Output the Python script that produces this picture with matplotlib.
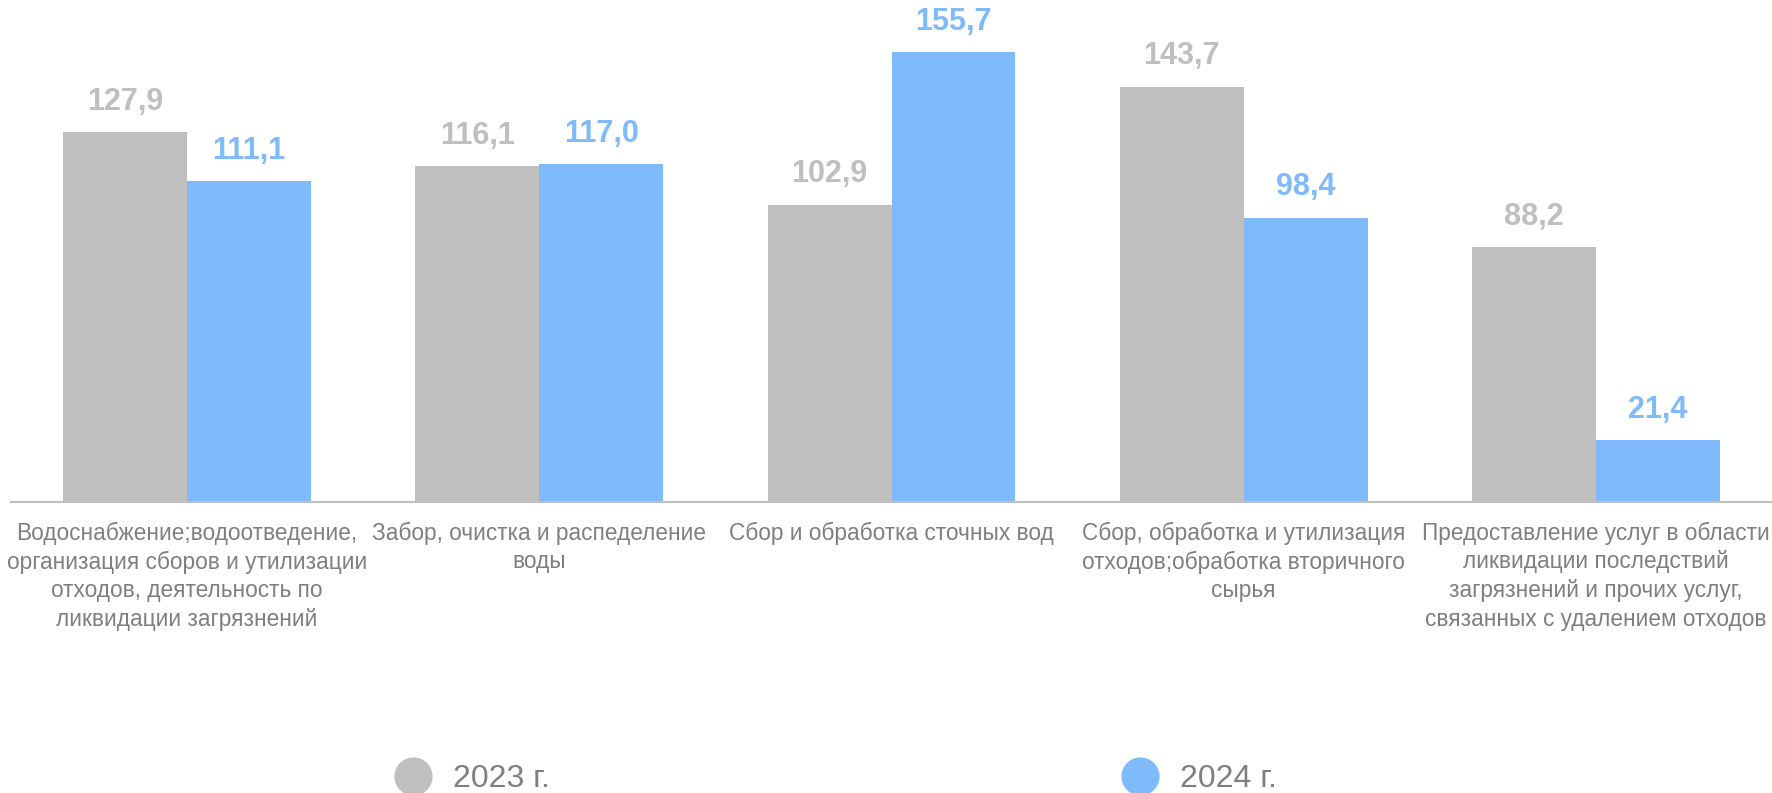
import numpy as np
import matplotlib
matplotlib.use("Agg")
from matplotlib import pyplot as plt
from matplotlib.lines import Line2D

plt.rcParams['font.family'] = ['Liberation Sans', 'DejaVu Sans']

# data
categories = [
    'Водоснабжение;водоотведение,\nорганизация сборов и утилизации\nотходов, деятельность по\nликвидации загрязнений',
    'Забор, очистка и распеделение\nводы',
    'Сбор и обработка сточных вод',
    'Сбор, обработка и утилизация\nотходов;обработка вторичного\nсырья',
    'Предоставление услуг в области\nликвидации последствий\nзагрязнений и прочих услуг,\nсвязанных с удалением отходов',
]
values_2023 = [127.9, 116.1, 102.9, 143.7, 88.2]
values_2024 = [111.1, 117.0, 155.7, 98.4, 21.4]
series_names = ['2023 г.', '2024 г.']

gray = '#bfbfbf'
blue = '#7fbafa'
text_gray = '#7f7f7f'

fig = plt.figure(figsize=(17.72, 7.93), dpi=100)
ax = fig.add_axes([11 / 1772, 1 - 502 / 793, 1 - 11 / 1772, 502 / 793])

x = np.arange(len(categories))
width = 0.352
bars_a = ax.bar(x - width / 2, values_2023, width, color=gray, zorder=2)
bars_b = ax.bar(x + width / 2, values_2024, width, color=blue, zorder=2)

# value labels above the bars, decimal comma
for bars, col in ((bars_a, gray), (bars_b, blue)):
    for b in bars:
        h = b.get_height()
        ax.annotate(f'{h:.1f}'.replace('.', ','),
                    xy=(b.get_x() + b.get_width() / 2, h),
                    xytext=(0, 11), textcoords='offset points',
                    ha='center', va='bottom', fontsize=22,
                    fontweight='bold', color=col)

ax.set_xlim(-0.5, len(categories) - 0.5)
ax.set_ylim(0, 173.7)
ax.set_yticks([])
ax.set_xticks(x)
ax.set_xticklabels(categories, fontsize=16.3, color=text_gray, linespacing=1.32)
ax.tick_params(axis='x', length=0, pad=14)
for lbl in ax.get_xticklabels():
    lbl.set_clip_on(False)

for side in ('top', 'right', 'left'):
    ax.spines[side].set_visible(False)
ax.spines['bottom'].set_color(gray)
ax.spines['bottom'].set_linewidth(1.5)
ax.patch.set_visible(False)

handles = [Line2D([], [], linestyle='none', marker='o', markersize=26.5,
                  markerfacecolor=c, markeredgecolor=c) for c in (gray, blue)]
fig.legend(handles, series_names, loc='center', ncol=2,
           bbox_to_anchor=(837 / 1772, 1 - 779 / 793),
           frameon=False, fontsize=23, labelcolor=text_gray,
           handlelength=1.0, handletextpad=0.75, columnspacing=18,
           borderpad=0, borderaxespad=0)

fig.savefig('out.png', dpi=100)
